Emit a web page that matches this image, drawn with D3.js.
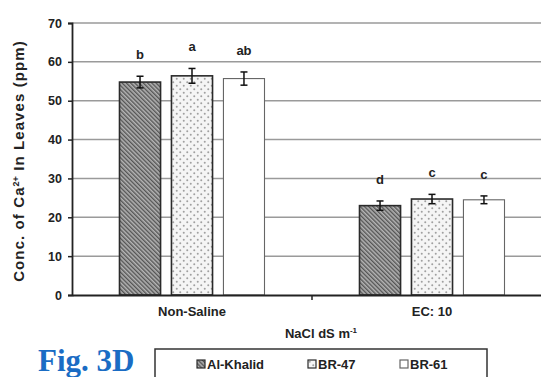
<!DOCTYPE html>
<html>
<head>
<meta charset="utf-8">
<script src="https://cdn.jsdelivr.net/npm/d3@7"></script>
<style>
  body { margin: 0; background: #fff; }
  svg { display: block; }
  text { font-family: "Liberation Sans", Arial, sans-serif; font-weight: bold; fill: #222; }
</style>
</head>
<body>
<div class="canvas"></div>
<script>
// categories, series and values
const categories = ['Non-Saline', 'EC: 10'];
const series = ['Al-Khalid', 'BR-47', 'BR-61'];
const nonSaline = [54.8, 56.4, 55.7];
const ec10 = [23.0, 24.7, 24.5];
const errNonSaline = [1.5, 1.9, 1.7];
const errEc10 = [1.2, 1.2, 1.0];
const lettersNonSaline = ['b', 'a', 'ab'];
const lettersEc10 = ['d', 'c', 'c'];
const yTicks = [0, 10, 20, 30, 40, 50, 60, 70];

const width = 541, height = 377;
const margin = { top: 23, left: 72, bottom: 82 };
const plotRight = 552; // plot runs past the picture edge

const svg = d3.select('.canvas')
  .append('svg')
    .attr('width', width)
    .attr('height', height);

// patterns for the bars
const defs = svg.append('defs');
const hatch = defs.append('pattern')
  .attr('id', 'hatch')
  .attr('patternUnits', 'userSpaceOnUse')
  .attr('width', 3).attr('height', 3)
  .attr('patternTransform', 'rotate(-45)');
hatch.append('rect').attr('width', 3).attr('height', 3).attr('fill', '#b4b4b4');
hatch.append('rect').attr('width', 1.4).attr('height', 3).attr('fill', '#555');

const dots = defs.append('pattern')
  .attr('id', 'dots')
  .attr('patternUnits', 'userSpaceOnUse')
  .attr('width', 7).attr('height', 7);
dots.append('rect').attr('width', 7).attr('height', 7).attr('fill', '#f5f5f5');
dots.append('circle').attr('cx', 1.75).attr('cy', 1.75).attr('r', 1).attr('fill', '#a0a0a0');
dots.append('circle').attr('cx', 5.25).attr('cy', 5.25).attr('r', 1).attr('fill', '#a0a0a0');

const fills = ['url(#hatch)', 'url(#dots)', '#fff'];
const strokes = ['#2a2a2a', '#2a2a2a', '#666'];
const strokeWidths = [1.6, 1.6, 1.1];

// scales
const y = d3.scaleLinear().domain([0, 70]).range([295, margin.top]);
const x0 = d3.scaleBand().domain(categories).range([margin.left, plotRight]);
const x1 = d3.scaleBand().domain(series)
  .range([47.5, 192.5])
  .paddingInner(0.21);

// gridlines
svg.append('g')
  .selectAll('line')
  .data(yTicks.filter(d => d > 0))
  .enter().append('line')
    .attr('x1', margin.left).attr('x2', width)
    .attr('y1', d => y(d)).attr('y2', d => y(d))
    .attr('stroke', '#9a9a9a')
    .attr('stroke-width', 1.5);

// y axis
const yAxisGroup = svg.append('g')
  .attr('transform', `translate(${margin.left},0)`)
  .call(d3.axisLeft(y).tickValues(yTicks).tickSize(4).tickPadding(6).tickFormat(d3.format('d')));
yAxisGroup.select('.domain').attr('stroke', '#222').attr('stroke-width', 1.8);
yAxisGroup.selectAll('.tick line').attr('stroke', '#222').attr('stroke-width', 1.5);
yAxisGroup.selectAll('text')
  .style('font-size', '12.5px')
  .style('font-family', '"Liberation Sans", Arial, sans-serif')
  .style('font-weight', 'bold')
  .style('fill', '#222');

// data rows
const rows = [];
categories.forEach((c, ci) => {
  const vals = ci === 0 ? nonSaline : ec10;
  const errs = ci === 0 ? errNonSaline : errEc10;
  const lets = ci === 0 ? lettersNonSaline : lettersEc10;
  series.forEach((s, si) => {
    rows.push({ cat: c, ser: s, si: si, value: vals[si], err: errs[si], letter: lets[si] });
  });
});

const bx = d => x0(d.cat) + x1(d.ser);

// bars
svg.append('g')
  .selectAll('rect')
  .data(rows)
  .enter().append('rect')
    .attr('x', bx)
    .attr('y', d => y(d.value))
    .attr('width', x1.bandwidth())
    .attr('height', d => y(0) - y(d.value))
    .attr('fill', d => fills[d.si])
    .attr('stroke', d => strokes[d.si])
    .attr('stroke-width', d => strokeWidths[d.si]);

// error bars
const err = svg.append('g')
  .selectAll('g')
  .data(rows)
  .enter().append('g')
    .attr('transform', d => `translate(${bx(d) + x1.bandwidth() / 2},0)`);
err.append('line')
  .attr('y1', d => y(d.value - d.err)).attr('y2', d => y(d.value + d.err))
  .attr('stroke', '#111').attr('stroke-width', 1.5);
err.append('line')
  .attr('x1', -3.5).attr('x2', 3.5)
  .attr('y1', d => y(d.value + d.err)).attr('y2', d => y(d.value + d.err))
  .attr('stroke', '#111').attr('stroke-width', 1.5);
err.append('line')
  .attr('x1', -3.5).attr('x2', 3.5)
  .attr('y1', d => y(d.value - d.err)).attr('y2', d => y(d.value - d.err))
  .attr('stroke', '#111').attr('stroke-width', 1.5);

// significance letters
err.append('text')
  .attr('y', d => y(d.value + d.err) - 17)
  .attr('text-anchor', 'middle')
  .style('font-size', '13px')
  .text(d => d.letter);

// x axis
const xAxisGroup = svg.append('g')
  .attr('transform', `translate(0,${y(0)})`)
  .call(d3.axisBottom(x0).tickSize(0).tickPadding(12));
xAxisGroup.select('.domain').attr('stroke', '#222').attr('stroke-width', 2);
xAxisGroup.selectAll('text')
  .style('font-size', '13px')
  .style('font-family', '"Liberation Sans", Arial, sans-serif')
  .style('font-weight', 'bold')
  .style('fill', '#222');
// tick between the two groups
svg.append('line')
  .attr('x1', x0('EC: 10')).attr('x2', x0('EC: 10'))
  .attr('y1', y(0)).attr('y2', y(0) + 5)
  .attr('stroke', '#222').attr('stroke-width', 1.5);

// axis titles
const yTitle = svg.append('text')
  .attr('transform', `translate(24,${(y(0) + y(70)) / 2 + 2}) rotate(-90)`)
  .attr('text-anchor', 'middle')
  .style('font-size', '15px')
  .style('letter-spacing', '1.1px');
yTitle.append('tspan').text('Conc. of Ca');
yTitle.append('tspan').attr('dy', -5).style('font-size', '9px').style('letter-spacing', '0px').text('2+');
yTitle.append('tspan').attr('dy', 5).text(' In Leaves (ppm)');

const xTitle = svg.append('text')
  .attr('x', 321).attr('y', 338)
  .attr('text-anchor', 'middle')
  .style('font-size', '13px');
xTitle.append('tspan').text('NaCl dS m');
xTitle.append('tspan').attr('dy', -5).style('font-size', '8px').text('-1');

// legend box
svg.append('rect')
  .attr('x', 155).attr('y', 349)
  .attr('width', 332).attr('height', 40)
  .attr('fill', '#fff')
  .attr('stroke', '#333').attr('stroke-width', 1.5);

const legendX = [197, 308, 400];
const legend = svg.selectAll('.legend')
  .data(series)
  .enter().append('g')
    .attr('class', 'legend')
    .attr('transform', (d, i) => `translate(${legendX[i]},360)`);
legend.append('rect')
  .attr('width', 8).attr('height', 8)
  .attr('fill', (d, i) => fills[i])
  .attr('stroke', (d, i) => strokes[i])
  .attr('stroke-width', 1.2);
legend.append('text')
  .attr('x', 10).attr('y', 8.5)
  .style('font-size', '13px')
  .text(d => d);

// figure tag
svg.append('text')
  .attr('x', 38).attr('y', 371)
  .style('font-family', '"Liberation Serif", "Times New Roman", serif')
  .style('font-size', '31px')
  .style('font-weight', 'bold')
  .style('fill', '#1a6cc4')
  .text('Fig. 3D');
</script>
</body>
</html>
